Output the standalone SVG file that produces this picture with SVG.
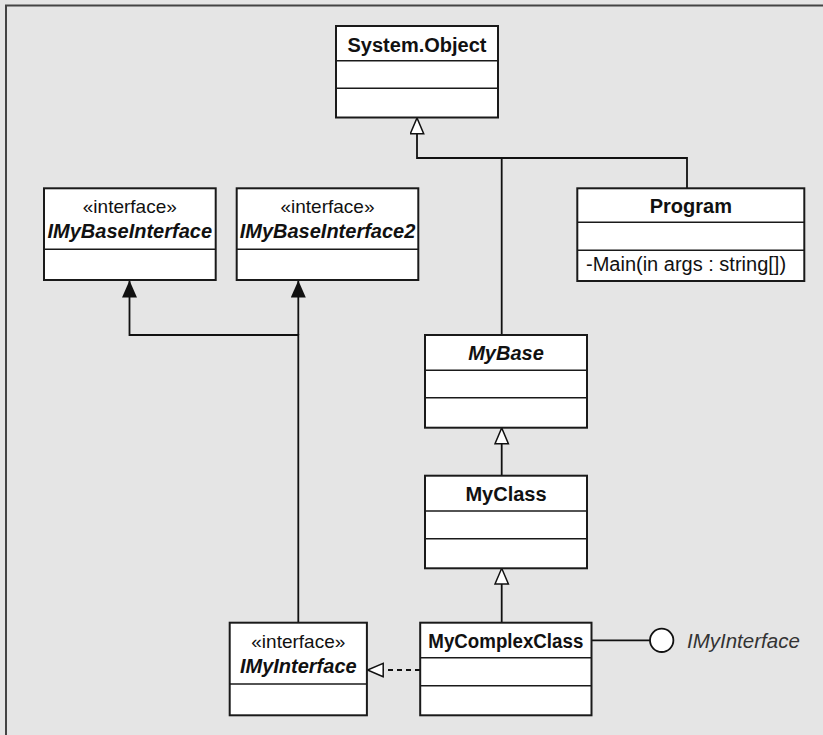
<svg xmlns="http://www.w3.org/2000/svg" width="823" height="735" viewBox="0 0 823 735">
  <defs>
    <style>
      .bg { fill: #e5e5e5; }
      .frame { stroke: #444; stroke-width: 2; fill: none; }
      .box { fill: #ffffff; stroke: #1a1a1a; stroke-width: 2; }
      .div { stroke: #1a1a1a; stroke-width: 1.5; }
      .line { fill: none; stroke: #111; stroke-width: 1.8; }
      .dash { stroke-dasharray: 5 4; }
      text { font-family: "Liberation Sans", Arial, sans-serif; fill: #111; }
      .name { font-size: 20px; font-weight: bold; text-anchor: middle; }
      .abstract { font-style: italic; }
      .stereo { font-size: 19px; text-anchor: middle; }
      .op { font-size: 20px; }
      .lbl { font-size: 20.5px; font-style: italic; fill: #333; }
    </style>
    <!-- hollow triangle: generalization / realization -->
    <marker id="gen" markerUnits="userSpaceOnUse" markerWidth="19" markerHeight="17" refX="16.5" refY="7.5" orient="auto">
      <path d="M0.8,0.8 L16.5,7.5 L0.8,14.2 Z" fill="#fff" stroke="#111" stroke-width="1.5"/>
    </marker>
    <!-- filled triangle: interface inheritance -->
    <marker id="solid" markerUnits="userSpaceOnUse" markerWidth="18" markerHeight="16" refX="17" refY="7.5" orient="auto">
      <path d="M0,0 L17,7.5 L0,15 Z" fill="#111"/>
    </marker>
  </defs>

  <rect class="bg" x="0" y="0" width="823" height="735"/>
  <path class="frame" d="M6,735 V5.5 H823"/>

  <g id="connectors">
    <path class="line" d="M501.7,335 V158 H417 V118" marker-end="url(#gen)"/>
    <path class="line" d="M687,188.3 V158 H501.7"/>
    <path class="line" d="M501.7,475.7 V428" marker-end="url(#gen)"/>
    <path class="line" d="M501.7,622.7 V568.3" marker-end="url(#gen)"/>
    <path class="line" d="M298.3,622.7 V335 H129.5 V280.5" marker-end="url(#solid)"/>
    <path class="line" d="M298.3,335 V280.5" marker-end="url(#solid)"/>
    <path class="line dash" d="M420,670 H367.5" marker-end="url(#gen)"/>
    <path class="line" d="M591.5,640.3 H650"/>
  </g>

  <g id="system-object">
    <rect class="box" x="336" y="26" width="162" height="91.5"/>
    <line class="div" x1="336" y1="60.7" x2="498" y2="60.7"/>
    <line class="div" x1="336" y1="88.3" x2="498" y2="88.3"/>
    <text class="name" x="417" y="52">System.Object</text>
  </g>

  <g id="imybaseinterface">
    <rect class="box" x="44" y="188.3" width="171.7" height="91.7"/>
    <line class="div" x1="44" y1="249.3" x2="215.7" y2="249.3"/>
    <text class="stereo" x="129.8" y="213">«interface»</text>
    <text class="name abstract" x="129.8" y="238">IMyBaseInterface</text>
  </g>

  <g id="imybaseinterface2">
    <rect class="box" x="236.7" y="188.3" width="181.6" height="91.7"/>
    <line class="div" x1="236.7" y1="249.3" x2="418.3" y2="249.3"/>
    <text class="stereo" x="327.5" y="213">«interface»</text>
    <text class="name abstract" x="327.5" y="238">IMyBaseInterface2</text>
  </g>

  <g id="program">
    <rect class="box" x="577.3" y="188.3" width="227" height="92.7"/>
    <line class="div" x1="577.3" y1="222.3" x2="804.3" y2="222.3"/>
    <line class="div" x1="577.3" y1="250.3" x2="804.3" y2="250.3"/>
    <text class="name" x="690.8" y="213">Program</text>
    <text class="op" x="586" y="271">-Main(in args : string[])</text>
  </g>

  <g id="mybase">
    <rect class="box" x="425" y="335" width="162" height="92.7"/>
    <line class="div" x1="425" y1="370.3" x2="587" y2="370.3"/>
    <line class="div" x1="425" y1="397.7" x2="587" y2="397.7"/>
    <text class="name abstract" x="506" y="360">MyBase</text>
  </g>

  <g id="myclass">
    <rect class="box" x="425" y="475.7" width="162" height="92.6"/>
    <line class="div" x1="425" y1="511" x2="587" y2="511"/>
    <line class="div" x1="425" y1="538.7" x2="587" y2="538.7"/>
    <text class="name" x="506" y="501">MyClass</text>
  </g>

  <g id="mycomplexclass">
    <rect class="box" x="420.2" y="622.7" width="171.3" height="92.6"/>
    <line class="div" x1="420.2" y1="657.7" x2="591.5" y2="657.7"/>
    <line class="div" x1="420.2" y1="685.7" x2="591.5" y2="685.7"/>
    <text class="name" x="505.8" y="647.5" textLength="155" lengthAdjust="spacingAndGlyphs">MyComplexClass</text>
  </g>

  <g id="imyinterface">
    <rect class="box" x="229.7" y="622.7" width="137.2" height="92.6"/>
    <line class="div" x1="229.7" y1="684" x2="366.9" y2="684"/>
    <text class="stereo" x="298.3" y="648">«interface»</text>
    <text class="name abstract" x="298.3" y="673">IMyInterface</text>
  </g>

  <g id="imyinterface-lollipop">
    <circle cx="661.7" cy="640.3" r="11.7" fill="#fff" stroke="#111" stroke-width="1.8"/>
    <text class="lbl" x="687" y="647.5">IMyInterface</text>
  </g>
</svg>
